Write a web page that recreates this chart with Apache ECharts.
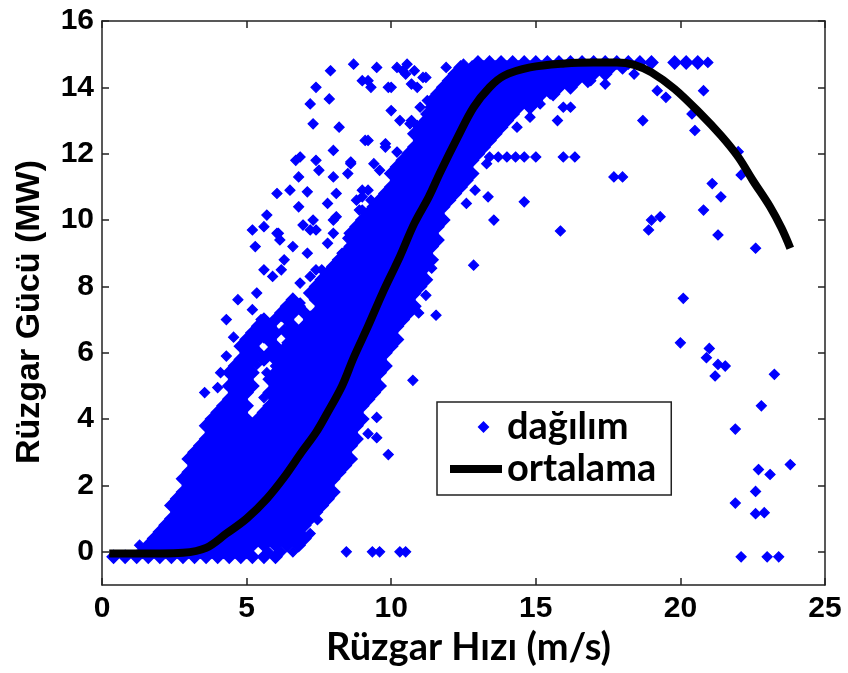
<!DOCTYPE html>
<html>
<head>
<meta charset="utf-8">
<script src="https://cdn.jsdelivr.net/npm/echarts@6/dist/echarts.min.js"></script>
<style>html,body{margin:0;padding:0;background:#fff}#c{width:848px;height:673px}</style>
</head>
<body>
<div id="c"></div>
<script>
// ---- tick values ----
const xTickStep = 5;
const yTickValues = [0, 2, 4, 6, 8, 10, 12, 14, 16];

// ---- "ortalama" (mean curve) ----
const curveX = [0.25,1,2,2.8,3.6,4.3,5.0,5.7,6.3,6.9,7.4,7.8,8.3,8.7,9.2,9.7,10.3,10.8,11.3,11.7,12.3,12.85,13.4,13.9,14.8,16,17,17.8,18.4,19.0,19.8,20.7,21.4,22.0,22.5,23.1,23.5,23.8];
const curveY = [-0.05,-0.05,-0.05,-0.03,0.12,0.55,1.0,1.6,2.25,3.0,3.6,4.2,5.0,5.85,6.8,7.8,8.9,9.9,10.7,11.45,12.5,13.4,14.0,14.35,14.6,14.72,14.75,14.75,14.68,14.45,13.95,13.2,12.55,11.9,11.2,10.4,9.75,9.15];

// ---- "dağılım" dense band: [power, [wind speeds]] ----
const bandRows = [
[-0.15,[0.4,0.8,1.2,1.6,2,2.4,2.8,3.2,3.6,4,4.4,4.8,5.2,5.6,6]],
[0,[1.4,1.8,2.2,2.6,3,3.4,3.8,4.2,4.6,5]],
[0.2,[1.6,2,2.4,2.8,3.2,3.6,4,4.4,4.8,5.2,5.6,6,6.4,6.8]],
[0.4,[1.8,2.2,2.6,3,3.4,3.8,4.2,4.6,5,5.4,5.8,6.2,6.6,7]],
[0.6,[2,2.4,2.8,3.2,3.6,4,4.4,4.8,5.2,5.6,6,6.4,6.8]],
[0.8,[2.2,2.6,3,3.4,3.8,4.2,4.6,5,5.4,5.8,6.2,6.6,7]],
[1.0,[2.4,2.8,3.2,3.6,4,4.4,4.8,5.2,5.6,6,6.4,6.8,7.2]],
[1.2,[2.6,3,3.4,3.8,4.2,4.6,5,5.4,5.8,6.2,6.6,7,7.4]],
[1.4,[2.4,2.8,3.2,3.6,4,4.4,4.8,5.2,5.6,6,6.4,6.8,7.2,7.6]],
[1.6,[2.6,3,3.4,3.8,4.2,4.6,5,5.4,5.8,6.2,6.6,7,7.4,7.8]],
[1.8,[2.8,3.2,3.6,4,4.4,4.8,5.2,5.6,6,6.4,6.8,7.2,7.6,8]],
[2.0,[3,3.4,3.8,4.2,4.6,5,5.4,5.8,6.2,6.6,7,7.4,7.8]],
[2.2,[2.8,3.2,3.6,4,4.4,4.8,5.2,5.6,6,6.4,6.8,7.2,7.6,8]],
[2.4,[3,3.4,3.8,4.2,4.6,5,5.4,5.8,6.2,6.6,7,7.4,7.8,8.2]],
[2.6,[3.2,3.6,4,4.4,4.8,5.2,5.6,6,6.4,6.8,7.2,7.6,8,8.4]],
[2.8,[3,3.4,3.8,4.2,4.6,5,5.4,5.8,6.2,6.6,7,7.4,7.8,8.2,8.6]],
[3.0,[3.2,3.6,4,4.4,4.8,5.2,5.6,6,6.4,6.8,7.2,7.6,8,8.4]],
[3.2,[3.4,3.8,4.2,4.6,5,5.4,5.8,6.2,6.6,7,7.4,7.8,8.2,8.6]],
[3.4,[3.6,4,4.4,4.8,5.2,5.6,6,6.4,6.8,7.2,7.6,8,8.4,8.8]],
[3.6,[3.8,4.2,4.6,5,5.4,5.8,6.2,6.6,7,7.4,7.8,8.2,8.6]],
[3.8,[3.6,4,4.4,4.8,5.2,5.6,6,6.4,6.8,7.2,7.6,8,8.4,8.8]],
[4.0,[3.8,4.2,4.6,5,5.4,5.8,6.2,6.6,7,7.4,7.8,8.2,8.6,9]],
[4.2,[4,4.4,4.8,5.6,6,6.4,6.8,7.2,7.6,8,8.4,8.8]],
[4.4,[4.2,4.6,5,5.8,6.2,6.6,7,7.4,7.8,8.2,8.6,9]],
[4.6,[4.4,4.8,6,6.4,6.8,7.2,7.6,8,8.4,8.8,9.2]],
[4.8,[4.6,5,5.8,6.2,6.6,7,7.4,7.8,8.2,8.6,9,9.4]],
[5.0,[4.4,4.8,5.2,6,6.4,6.8,7.2,7.6,8,8.4,8.8,9.2,9.6]],
[5.2,[4.6,5,5.8,6.2,6.6,7,7.4,7.8,8.2,8.6,9,9.4]],
[5.4,[4.4,4.8,5.2,6,6.4,6.8,7.2,7.6,8,8.4,8.8,9.2,9.6]],
[5.6,[4.6,5,6.2,6.6,7,7.4,7.8,8.2,8.6,9,9.4,9.8]],
[5.8,[4.8,5.2,5.6,6,6.4,6.8,7.2,7.6,8,8.4,8.8,9.2,9.6]],
[6.0,[5,5.4,5.8,6.2,6.6,7,7.4,7.8,8.2,8.6,9,9.4,9.8]],
[6.2,[4.8,5.2,6,6.4,6.8,7.2,7.6,8,8.4,8.8,9.2,9.6,10]],
[6.4,[5,5.4,5.8,6.6,7,7.4,7.8,8.2,8.6,9,9.4,9.8,10.2]],
[6.6,[5.2,5.6,6,6.4,6.8,7.2,7.6,8,8.4,8.8,9.2,9.6,10]],
[6.8,[5.4,5.8,6.6,7,7.4,7.8,8.2,8.6,9,9.4,9.8,10.2]],
[7.0,[5.6,6,6.4,7.2,7.6,8,8.4,8.8,9.2,9.6,10,10.4]],
[7.2,[6.2,6.6,7,7.4,7.8,8.2,8.6,9,9.4,9.8,10.2,10.6]],
[7.4,[6.4,6.8,7.6,8,8.4,8.8,9.2,9.6,10,10.4,10.8]],
[7.6,[6.6,7.4,7.8,8.2,8.6,9,9.4,9.8,10.2,10.6]],
[7.8,[7.2,7.6,8,8.4,8.8,9.2,9.6,10,10.4,10.8]],
[8.0,[7.4,7.8,8.2,8.6,9,9.4,9.8,10.2,10.6,11]],
[8.2,[7.6,8,8.4,8.8,9.2,9.6,10,10.4,10.8,11.2]],
[8.4,[7.8,8.2,8.6,9,9.4,9.8,10.2,10.6,11]],
[8.6,[8,8.4,8.8,9.2,9.6,10,10.4,10.8,11.2]],
[8.8,[8.2,8.6,9,9.4,9.8,10.2,10.6,11,11.4]],
[9.0,[8.4,8.8,9.2,9.6,10,10.4,10.8,11.2]],
[9.2,[8.6,9,9.4,9.8,10.2,10.6,11,11.4]],
[9.4,[8.8,9.2,9.6,10,10.4,10.8,11.2,11.6]],
[9.6,[8.6,9,9.4,9.8,10.2,10.6,11,11.4]],
[9.8,[8.8,9.2,9.6,10,10.4,10.8,11.2,11.6]],
[10.0,[9,9.4,9.8,10.2,10.6,11,11.4,11.8]],
[10.2,[9.2,9.6,10,10.4,10.8,11.2,11.6]],
[10.4,[9.4,9.8,10.2,10.6,11,11.4,11.8]],
[10.6,[9.6,10,10.4,10.8,11.2,11.6,12]],
[10.8,[9.8,10.2,10.6,11,11.4,11.8,12.2]],
[11.0,[10,10.4,10.8,11.2,11.6,12,12.4]],
[11.2,[10.2,10.6,11,11.4,11.8,12.2,12.6]],
[11.4,[10,10.4,10.8,11.2,11.6,12,12.4,12.8]],
[11.6,[10.2,10.6,11,11.4,11.8,12.2,12.6]],
[11.8,[10.4,10.8,11.2,11.6,12,12.4,12.8]],
[12.0,[10.6,11,11.4,11.8,12.2,12.6,13]],
[12.2,[10.8,11.2,11.6,12,12.4,12.8,13.2]],
[12.4,[11,11.4,11.8,12.2,12.6,13,13.4]],
[12.6,[10.8,11.2,11.6,12,12.4,12.8,13.2,13.6]],
[12.8,[11,11.4,11.8,12.2,12.6,13,13.4,13.8]],
[13.0,[11.2,11.6,12,12.4,12.8,13.2,13.6,14]],
[13.2,[11.4,11.8,12.2,12.6,13,13.4,13.8,14.2]],
[13.4,[11.6,12,12.4,12.8,13.2,13.6,14,14.4,14.8]],
[13.6,[11.4,11.8,12.2,12.6,13,13.4,13.8,14.2,14.6,15]],
[13.8,[11.6,12,12.4,12.8,13.2,13.6,14,14.4,14.8,15.2,15.6]],
[14.0,[11.8,12.2,12.6,13,13.4,13.8,14.2,14.6,15,15.4,15.8,16.2]],
[14.2,[12,12.4,12.8,13.2,13.6,14,14.4,14.8,15.2,15.6,16,16.4,16.8]],
[14.4,[12.2,12.6,13,13.4,13.8,14.2,14.6,15,15.4,15.8,16.2,16.6,17,17.4]],
[14.6,[12.4,12.8,13.2,13.6,14,14.4,14.8,15.2,15.6,16,16.4,16.8,17.2,17.6,18]],
[14.75,[13,13.4,13.8,14.2,14.6,15,15.4,15.8,16.2,16.6,17,17.4,17.8,18.2,18.6,19,19.8,20.2,20.6]]
];

// ---- "dağılım" scattered points left / above the band: [speed, power] ----
const scatterLeft = [
[1.3,0.2],[2.0,0.33],
[3.55,4.8],[4.0,4.95],[4.25,4.3],[3.9,4.0],[4.55,5.1],[4.1,5.4],[4.3,5.9],[4.55,6.47],[5.2,5.9],[5.35,5.65],[5.0,5.47],[5.7,5.4],[5.9,5.2],[5.6,4.65],[4.9,4.5],[6.5,5.7],[6.4,6.3],[5.6,6.45],[5.8,6.3],[6.2,6.0],[6.0,5.6],[6.85,6.1],
[4.3,7.0],[4.7,7.6],[5.35,7.8],[5.2,7.3],[5.5,7.0],[5.8,6.7],[6.2,7.1],[6.4,7.4],[6.3,6.7],[6.85,7.5],[7.2,7.1],[7.5,7.7],[7.8,7.9],[7.4,8.5],[8.2,8.3],[6.85,8.1],[6.3,8.8],[5.6,8.5],[5.9,8.3],[6.2,8.5],[7.6,8.5],[7.2,8.3],[8.1,8.7],[8.3,9.0],[8.5,9.45],[7.8,9.3],[7.1,9.0],[6.6,9.2],[7.2,9.7],[7.4,9.7],[6.05,9.6],[6.15,9.4],[6.95,9.85],[7.3,10.0],[8.0,10.0],[8.9,10.3],[9.0,10.7],[8.8,10.6],[7.8,10.5],[8.1,10.8],[7.1,10.85],[6.8,10.4],[6.05,10.8],[5.7,10.15],[5.2,9.7],[5.3,9.2],[5.6,9.8],[6.5,10.9],[6.8,11.3],[6.85,11.9],[7.4,11.8],[7.5,11.5],[8.0,11.3],[8.0,12.1],[8.6,11.75],[8.5,11.4],[9.2,12.4],[9.8,12.3],[10.2,12.05],[9.4,11.7],[9.6,11.5],[9.2,10.9],[9.3,10.6],[6.7,11.8],[6.1,9.6],[9.0,10.3],[8.1,10.1],[8.0,9.6],
[8.7,14.7],[9.5,14.6],[7.9,14.5],[10.2,14.6],[10.55,14.7],[10.8,14.5],[11.2,14.3],[12.5,14.7],[11.9,14.6],[7.4,14.0],[7.86,13.65],[7.2,13.5],[9.2,14.2],[9.3,14.0],[9.9,14.0],[10.5,14.4],[10.7,14.1],[10.9,14.0],[10.0,13.3],[10.3,13.0],[10.7,13.0],[11.0,13.4],[11.2,13.2],[7.3,12.9],[8.2,12.8],[9.1,12.4],[9.8,12.2],[10.4,11.8],[9.0,14.2],[10.4,14.5],[10.0,14.0],[11.1,14.3],[10.65,12.9],[10.9,12.85],[11.35,13.4],[11.25,13.6],[8.6,11.7],[9.0,10.9]
];

// ---- "dağılım" scattered points right of the band: [speed, power] ----
const scatterRight = [
[5.75,0],[6.2,0],[6.6,0],[8.45,0],[9.35,0],[9.6,0],[10.3,0],[10.5,0],
[7.45,0.97],[7.2,0.55],
[9.9,2.93],[9.5,3.44],[9.2,3.56],[9.5,4.05],[10.75,5.17],[10.95,7.2],[11.55,7.13],[11.2,7.73],[11.4,8.55],[12.85,8.64],
[12.6,10.5],[12.9,10.9],[13.35,10.7],[13.55,10.0],[14.6,10.55],[15.85,9.67],[12.3,11.1],[12.6,11.5],[13.3,11.7],
[13.4,11.9],[13.7,11.9],[14.0,11.9],[14.3,11.9],[14.6,11.9],[15.0,11.9],[15.95,11.9],[16.35,11.9],
[12.95,12.0],[13.3,12.4],[13.5,12.7],[13.9,13.0],[14.35,12.8],[14.8,13.1],[15.15,13.5],[15.5,13.8],[15.95,13.4],[15.75,13.0],
[16.2,13.4],[16.9,14.2],[17.4,14.1],[18.4,14.4],[19.2,13.9],[19.5,13.7],[20.8,13.9],[18.7,13.0],[20.4,13.2],[20.5,12.7],[17.7,11.3],[18.0,11.3],[21.1,11.1],[21.4,10.7],[20.8,10.3],[19.3,10.1],[19.0,10.0],[18.9,9.7],[21.3,9.55],[22.0,12.06],[22.1,11.36],[22.6,9.15],[20.95,14.75],
[20.1,7.64],[20.0,6.3],[21.0,6.13],[20.9,5.85],[21.3,5.65],[21.55,5.6],[21.2,5.3],[23.25,5.35],[22.8,4.4],[21.9,3.7],[23.8,2.63],[22.7,2.48],[23.1,2.33],[22.6,1.82],[21.9,1.47],[22.6,1.15],[22.9,1.18],[22.1,-0.15],[23.0,-0.15],[23.4,-0.15]
];

// ---- build series data ----
const bandData = [];
bandRows.forEach(function (r) { r[1].forEach(function (x) { bandData.push([x, r[0]]); }); });
const looseData = scatterLeft.concat(scatterRight);
const curveData = curveX.map(function (x, i) { return [x, curveY[i]]; });

const axisCol = '#222';
const blue = '#0000ff';
const tickFont = {fontFamily: 'Liberation Sans', fontWeight: 'bold', fontSize: 30, color: '#000'};

const chart = echarts.init(document.getElementById('c'), null, {renderer: 'canvas'});
chart.setOption({
  animation: false,
  backgroundColor: '#fff',
  grid: {left: 102, right: 23, top: 21, bottom: 88, containLabel: false, outerBoundsMode: 'none'},
  legend: {
    orient: 'vertical', left: 437, top: 402,
    backgroundColor: '#fff', borderColor: axisCol, borderWidth: 1.5, borderRadius: 0,
    padding: [6, 15, 7, 12], itemGap: 4, itemWidth: 52, itemHeight: 10, itemTextGap: 9,
    textStyle: {fontFamily: 'Lato', fontWeight: 'bold', fontSize: 38, color: '#000'},
    data: [
      {name: 'dağılım', icon: 'path://M0,0M52,10M29,5L33.5,0.5L38,5L33.5,9.5Z'},
      {name: 'ortalama', icon: 'path://M0,0M52,10M0,1L52,1L52,9L0,9Z'}
    ]
  },
  xAxis: [{
    type: 'value', min: 0, max: 25, interval: xTickStep, position: 'bottom',
    axisLine: {show: true, onZero: false, lineStyle: {color: axisCol, width: 1.5}},
    axisTick: {show: true, inside: true, length: 7, lineStyle: {color: axisCol, width: 1.5}},
    axisLabel: Object.assign({margin: 9}, tickFont),
    splitLine: {show: false},
    name: 'Rüzgar Hızı (m/s)', nameLocation: 'middle', nameGap: 40,
    nameTextStyle: {fontFamily: 'Lato', fontWeight: 'bold', fontSize: 38, color: '#000', padding: [0, 0, 0, 10]}
  }, {
    type: 'value', min: 0, max: 25, interval: xTickStep, position: 'top',
    axisLine: {show: true, onZero: false, lineStyle: {color: axisCol, width: 1.5}},
    axisTick: {show: true, inside: true, length: 7, lineStyle: {color: axisCol, width: 1.5}},
    axisLabel: {show: false}, splitLine: {show: false}
  }],
  yAxis: [{
    type: 'value', min: -1, max: 16, position: 'left',
    axisLine: {show: true, onZero: false, lineStyle: {color: axisCol, width: 1.5}},
    axisTick: {show: true, inside: true, length: 7, customValues: yTickValues, lineStyle: {color: axisCol, width: 1.5}},
    axisLabel: Object.assign({margin: 8, customValues: yTickValues}, tickFont),
    splitLine: {show: false},
    name: 'Rüzgar Gücü (MW)', nameLocation: 'middle', nameGap: 55, nameRotate: 90,
    nameTextStyle: {fontFamily: 'Liberation Sans', fontWeight: 'bold', fontSize: 34, color: '#000', padding: [0, 18, 0, 0]}
  }, {
    type: 'value', min: -1, max: 16, position: 'right',
    axisLine: {show: true, onZero: false, lineStyle: {color: axisCol, width: 1.5}},
    axisTick: {show: true, inside: true, length: 7, customValues: yTickValues, lineStyle: {color: axisCol, width: 1.5}},
    axisLabel: {show: false}, splitLine: {show: false}
  }],
  series: [{
    name: 'dağılım', type: 'scatter', xAxisIndex: 0, yAxisIndex: 0,
    symbol: 'diamond', symbolSize: 12, large: false,
    itemStyle: {color: blue, opacity: 1, borderColor: blue, borderWidth: 2},
    emphasis: {disabled: true},
    data: bandData, z: 2
  }, {
    name: 'dağılım', type: 'scatter', xAxisIndex: 0, yAxisIndex: 0,
    symbol: 'diamond', symbolSize: 10, large: false,
    itemStyle: {color: blue, opacity: 1, borderColor: blue, borderWidth: 1.2},
    emphasis: {disabled: true},
    data: looseData, z: 2
  }, {
    name: 'ortalama', type: 'line', xAxisIndex: 0, yAxisIndex: 0,
    showSymbol: false, symbol: 'none', smooth: 0.35,
    lineStyle: {color: '#000', width: 8},
    itemStyle: {color: '#000'},
    emphasis: {disabled: true},
    data: curveData, z: 3
  }]
});
</script>
</body>
</html>
